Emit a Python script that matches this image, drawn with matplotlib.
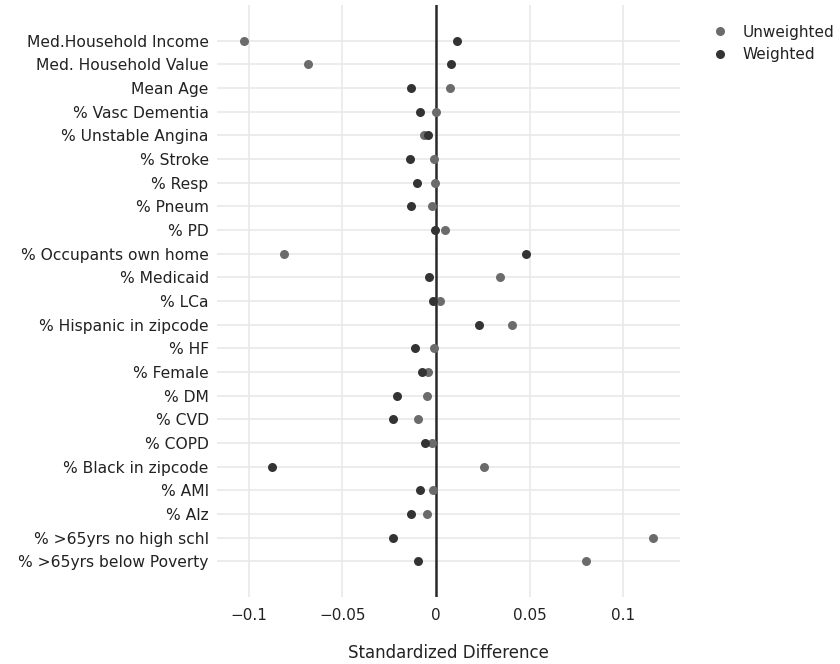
import matplotlib
matplotlib.use("Agg")
import matplotlib.pyplot as plt
from matplotlib.lines import Line2D

categories = [
    "Med.Household Income", "Med. Household Value", "Mean Age", "% Vasc Dementia",
    "% Unstable Angina", "% Stroke", "% Resp", "% Pneum", "% PD",
    "% Occupants own home", "% Medicaid", "% LCa", "% Hispanic in zipcode",
    "% HF", "% Female", "% DM", "% CVD", "% COPD", "% Black in zipcode",
    "% AMI", "% Alz", "% >65yrs no high schl", "% >65yrs below Poverty",
]
unweighted = [-0.1026, -0.0681, 0.0073, 0.0002, -0.0065, -0.0010, -0.0007, -0.0021, 0.0050,
              -0.0810, 0.0343, 0.0021, 0.0407, -0.0009, -0.0044, -0.0048, -0.0096, -0.0020,
              0.0254, -0.0018, -0.0046, 0.1158, 0.0800]
weighted = [0.0110, 0.0078, -0.0132, -0.0085, -0.0045, -0.0139, -0.0101, -0.0135, -0.0007,
            0.0480, -0.0039, -0.0018, 0.0231, -0.0112, -0.0076, -0.0208, -0.0229, -0.0057,
            -0.0873, -0.0085, -0.0135, -0.0229, -0.0098]
xticks = [-0.1, -0.05, 0, 0.05, 0.1]
xtick_labels = ["\u22120.1", "\u22120.05", "0", "0.05", "0.1"]

plt.rcParams['font.family'] = ['DejaVu Sans']
W, H = 840, 664
fig = plt.figure(figsize=(W / 100, H / 100), dpi=100)
ax = fig.add_axes([217 / W, 1 - 597 / H, (680 - 217) / W, (597 - 5) / H])

n = len(categories)
ypos = [n - 1 - i for i in range(n)]
c_unw = "#6b6b6b"
c_w = "#333333"

ax.scatter(unweighted, ypos, s=42, color=c_unw, zorder=3, linewidths=0)
ax.scatter(weighted, ypos, s=42, color=c_w, zorder=4, linewidths=0)

ax.set_xlim(-0.1169, 0.1302)
ax.set_ylim(-1.5, n + 0.5)
ax.set_yticks(ypos)
ax.set_yticklabels(categories, fontsize=11.2, color="#222222")
ax.set_xticks(xticks)
ax.set_xticklabels(xtick_labels, fontsize=11, color="#222222")
ax.tick_params(axis="both", length=0, pad=8)
ax.tick_params(axis="y", pad=6)
ax.grid(True, color="#e9e9e9", linewidth=1.2, zorder=0)
ax.set_axisbelow(True)
for s in ax.spines.values():
    s.set_visible(False)
ax.axvline(0, color="#2a2a2a", linewidth=1.8, zorder=2)
ax.set_xlabel("Standardized Difference", fontsize=12, color="#222222", labelpad=15)

handles = [Line2D([], [], marker="o", linestyle="", markersize=6.5, color=c_unw, markeredgewidth=0),
           Line2D([], [], marker="o", linestyle="", markersize=6.5, color=c_w, markeredgewidth=0)]
fig.legend(handles, ["Unweighted", "Weighted"], loc="upper left",
           bbox_to_anchor=(697 / W, 1 - 11 / H), frameon=False, fontsize=11,
           handletextpad=0.9, labelspacing=0.5, handlelength=1.2, labelcolor="#222222")

fig.savefig("out.png", dpi=100)
